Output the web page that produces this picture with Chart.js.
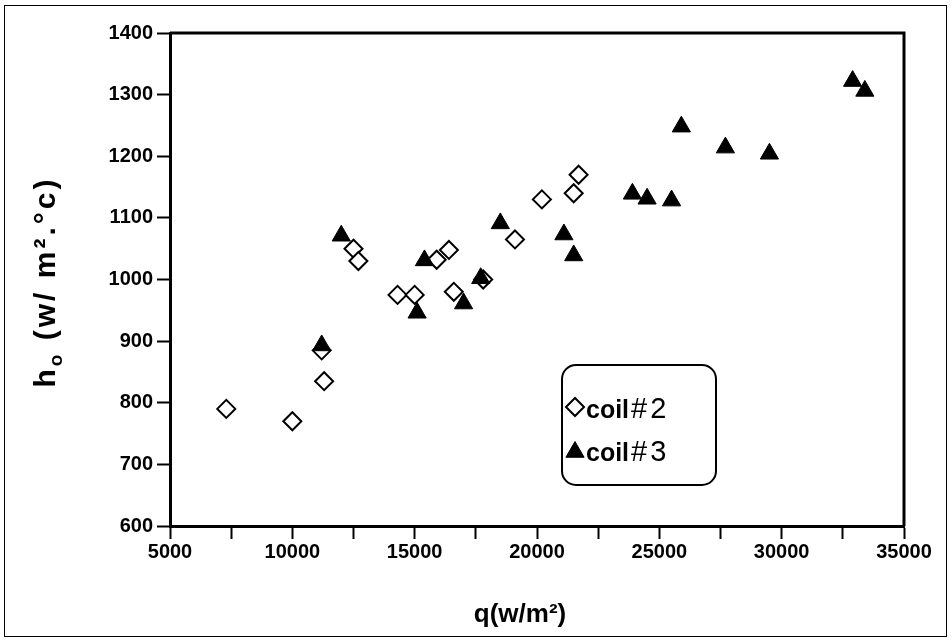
<html><head>
<meta charset="UTF-8">
<title>h_o vs q</title>
<style>
  html, body { margin: 0; padding: 0; background: #fff; }
  #wrap { width: 952px; height: 642px; position: relative; }
</style>
<script src="https://cdn.jsdelivr.net/npm/chart.js"></script>
</head>
<body>
<div id="wrap"><canvas id="c" width="952" height="642"></canvas></div>
<script>
// coil #2 (open diamonds)
const coil2Q = [7300, 10000, 11200, 11300, 12500, 12700, 14300, 15000, 15900, 16400, 16600, 17800, 19100, 20200, 21500, 21700];
const coil2H = [790, 770, 885, 835, 1050, 1030, 975, 975, 1032, 1048, 980, 1000, 1065, 1130, 1140, 1170];
// coil #3 (filled triangles)
const coil3Q = [11200, 12000, 15400, 15100, 17700, 17000, 18500, 21100, 21500, 23900, 24500, 25500, 25900, 27700, 29500, 32900, 33400];
const coil3H = [893, 1071, 1031, 946, 1002, 961, 1091, 1073, 1039, 1139, 1131, 1128, 1248, 1214, 1204, 1322, 1306];

const xMin = 5000, xMax = 35000, xStep = 2500;
const yMin = 600, yMax = 1400, yStep = 100;
const legendLabels = ['coil', 'coil'];
const legendTags = ['#2', '#3'];

const FONT = 'Liberation Sans, Arial, sans-serif';

function toPoints(xs, ys) {
  return xs.map((x, i) => ({x: x, y: ys[i]}));
}

const decor = {
  id: 'decor',
  afterDraw(chart) {
    const ctx = chart.ctx;
    const a = chart.chartArea;
    ctx.save();
    // outer frame
    ctx.strokeStyle = '#000';
    ctx.lineWidth = 1;
    ctx.strokeRect(4.5, 5.5, 942, 631);
    // top and right of plot box
    ctx.lineWidth = 3;
    ctx.beginPath();
    ctx.moveTo(a.left, a.top);
    ctx.lineTo(a.right, a.top);
    ctx.lineTo(a.right, a.bottom);
    ctx.stroke();

    // x title
    ctx.fillStyle = '#000';
    ctx.font = 'bold 26px ' + FONT;
    ctx.textAlign = 'center';
    ctx.textBaseline = 'alphabetic';
    ctx.fillText('q(w/m\u00b2)', 520, 622);

    // y title, rotated, with subscript o
    ctx.translate(55, 282);
    ctx.rotate(-Math.PI / 2);
    ctx.letterSpacing = '3px';
    const parts = [
      {t: 'h', f: 'bold 30px ', dy: 0},
      {t: 'o', f: 'bold 19px ', dy: 7},
      {t: ' (w/ m\u00b2.\u00b0c)', f: 'bold 30px ', dy: 0}
    ];
    let total = 0;
    parts.forEach(p => { ctx.font = p.f + FONT; p.w = ctx.measureText(p.t).width; total += p.w; });
    let x = -total / 2;
    ctx.textAlign = 'left';
    parts.forEach(p => {
      ctx.font = p.f + FONT;
      ctx.fillText(p.t, x, p.dy);
      x += p.w;
    });
    ctx.restore();

    // legend box
    ctx.save();
    const bx = 562, by = 365, bw = 154, bh = 120, r = 14;
    ctx.lineWidth = 2;
    ctx.strokeStyle = '#000';
    ctx.fillStyle = '#fff';
    ctx.beginPath();
    ctx.roundRect(bx, by, bw, bh, r);
    ctx.fill();
    ctx.stroke();
    const styles = [
      {pointStyle: 'rectRot', radius: 9, borderWidth: 2, borderColor: '#000', backgroundColor: '#fff'},
      {pointStyle: 'triangle', radius: 10.5, borderWidth: 1, borderColor: '#000', backgroundColor: '#000'}
    ];
    [407, 450].forEach((yy, i) => {
      const s = styles[i];
      ctx.fillStyle = s.backgroundColor;
      ctx.strokeStyle = s.borderColor;
      ctx.lineWidth = s.borderWidth;
      Chart.helpers.drawPoint(ctx, s, 575, i === 1 ? yy + 2 : yy);
      ctx.fillStyle = '#000';
      ctx.textBaseline = 'alphabetic';
      ctx.textAlign = 'left';
      ctx.font = 'bold 25px ' + FONT;
      ctx.letterSpacing = '0px';
      ctx.fillText(legendLabels[i], 586, yy + 11);
      const w = ctx.measureText(legendLabels[i]).width;
      ctx.font = '29px ' + FONT;
      ctx.letterSpacing = '3px';
      ctx.fillText(legendTags[i], 586 + w + 2, yy + 11);
    });
    ctx.restore();
  }
};

new Chart(document.getElementById('c'), {
  type: 'scatter',
  data: {
    datasets: [{
      label: 'coil#3',
      data: toPoints(coil3Q, coil3H),
      pointStyle: 'triangle',
      pointRadius: 10.5,
      pointHoverRadius: 10.5,
      backgroundColor: '#000',
      borderColor: '#000',
      borderWidth: 1,
      order: 0
    }, {
      label: 'coil#2',
      data: toPoints(coil2Q, coil2H),
      pointStyle: 'rectRot',
      pointRadius: 9,
      pointHoverRadius: 9,
      backgroundColor: '#fff',
      borderColor: '#000',
      borderWidth: 2,
      order: 1
    }]
  },
  options: {
    responsive: false,
    animation: false,
    layout: { padding: { left: 0, right: 48, top: 33, bottom: 0 } },
    plugins: { legend: { display: false }, tooltip: { enabled: false } },
    scales: {
      x: {
        type: 'linear',
        min: xMin, max: xMax,
        afterFit(s) { s.height = 116; },
        ticks: {
          stepSize: xStep,
          autoSkip: false,
          maxRotation: 0,
          padding: 1,
          color: '#000',
          font: { family: FONT, size: 20, weight: 'bold' },
          callback: v => (v % 5000 === 0 ? String(v) : '')
        },
        grid: { drawOnChartArea: false, drawTicks: true, tickLength: 13, tickWidth: 2, tickColor: '#000' },
        border: { display: true, width: 3, color: '#000' }
      },
      y: {
        min: yMin, max: yMax,
        afterFit(s) { s.width = 170; },
        ticks: {
          stepSize: yStep,
          padding: 4,
          color: '#000',
          font: { family: FONT, size: 20, weight: 'bold' },
          callback: v => String(v)
        },
        grid: { drawOnChartArea: false, drawTicks: true, tickLength: 13, tickWidth: 2, tickColor: '#000' },
        border: { display: true, width: 3, color: '#000' }
      }
    }
  },
  plugins: [decor]
});
</script>
</body></html>
